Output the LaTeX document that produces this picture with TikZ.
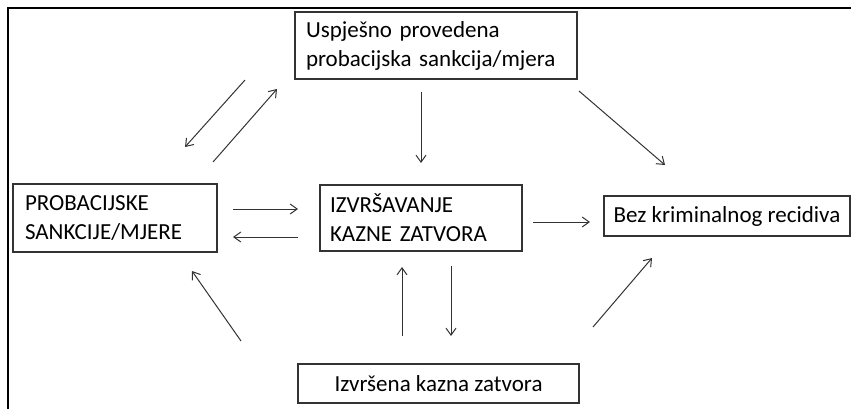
\documentclass[tikz,border=0pt]{standalone}
\usepackage{fontspec}
\setmainfont{Carlito}
\usetikzlibrary{arrows.meta,calc}
\tikzset{
  box/.style={draw=black!80, line width=1.1pt, rectangle, outer sep=0pt, inner ysep=0pt,
    font=\fontsize{23}{29}\selectfont, text=black},
  conn/.style={draw=black!80, line width=1pt, -{Straight Barb[length=7pt,width=10pt]}},
}
\begin{document}
\begin{tikzpicture}[x=1pt,y=-1pt]
\useasboundingbox (0,0) rectangle (851,408);
\draw[line width=2.6pt, black] (8,420) -- (8,8) -- (870,8);
\node[box, minimum width=282pt, minimum height=67pt, inner xsep=11pt, text width=260pt, align=left] (usp) at (436,45.5) {Uspješno provedena\\probacijska sankcija/mjera};
\node[box, minimum width=204pt, minimum height=68pt, inner xsep=12pt, text width=180pt, align=left] (prob) at (115,218) {PROBACIJSKE\\SANKCIJE/MJERE};
\node[box, minimum width=202pt, minimum height=66pt, inner xsep=10pt, text width=182pt, align=left] (izv) at (421,218) {IZVRŠAVANJE\\KAZNE ZATVORA};
\node[box, minimum width=246pt, minimum height=40pt, inner xsep=4pt] (bez) at (727,216) {Bez kriminalnog recidiva};
\node[box, minimum width=281pt, minimum height=39pt, inner xsep=4pt] (izvr) at (438.5,383.5) {Izvršena kazna zatvora};
% connectors
\draw[conn] ($(usp.south west)+(-50,1)$) -- ($(prob.north east)+(-32,-37)$);
\draw[conn] ($(prob.north east)+(-4,-22)$) -- ($(usp.south west)+(-18,10)$);
\draw[conn] ($(usp.south)+(-15,13)$) -- ($(izv.north)+(0,-22)$);
\draw[conn] ($(usp.south east)+(2,12)$) -- ($(bez.north west)+(61,-31)$);
\draw[conn] ($(prob.east)+(16,-9)$) -- ($(izv.west)+(-22,-9)$);
\draw[conn] ($(izv.west)+(-22,19)$) -- ($(prob.east)+(16,19)$);
\draw[conn] ($(izv.east)+(11,4)$) -- ($(bez.west)+(-14,6)$);
\draw[conn] ($(izvr.north west)+(-57,-23)$) -- ($(prob.south east)+(-25,19)$);
\draw[conn] ($(izvr.north)+(-36.5,-28)$) -- ($(izv.south)+(-19,16)$);
\draw[conn] ($(izv.south)+(30,15)$) -- ($(izvr.north)+(12.5,-28)$);
\draw[conn] ($(izvr.north east)+(14,-37)$) -- ($(bez.south west)+(48,22)$);
\end{tikzpicture}
\end{document}
